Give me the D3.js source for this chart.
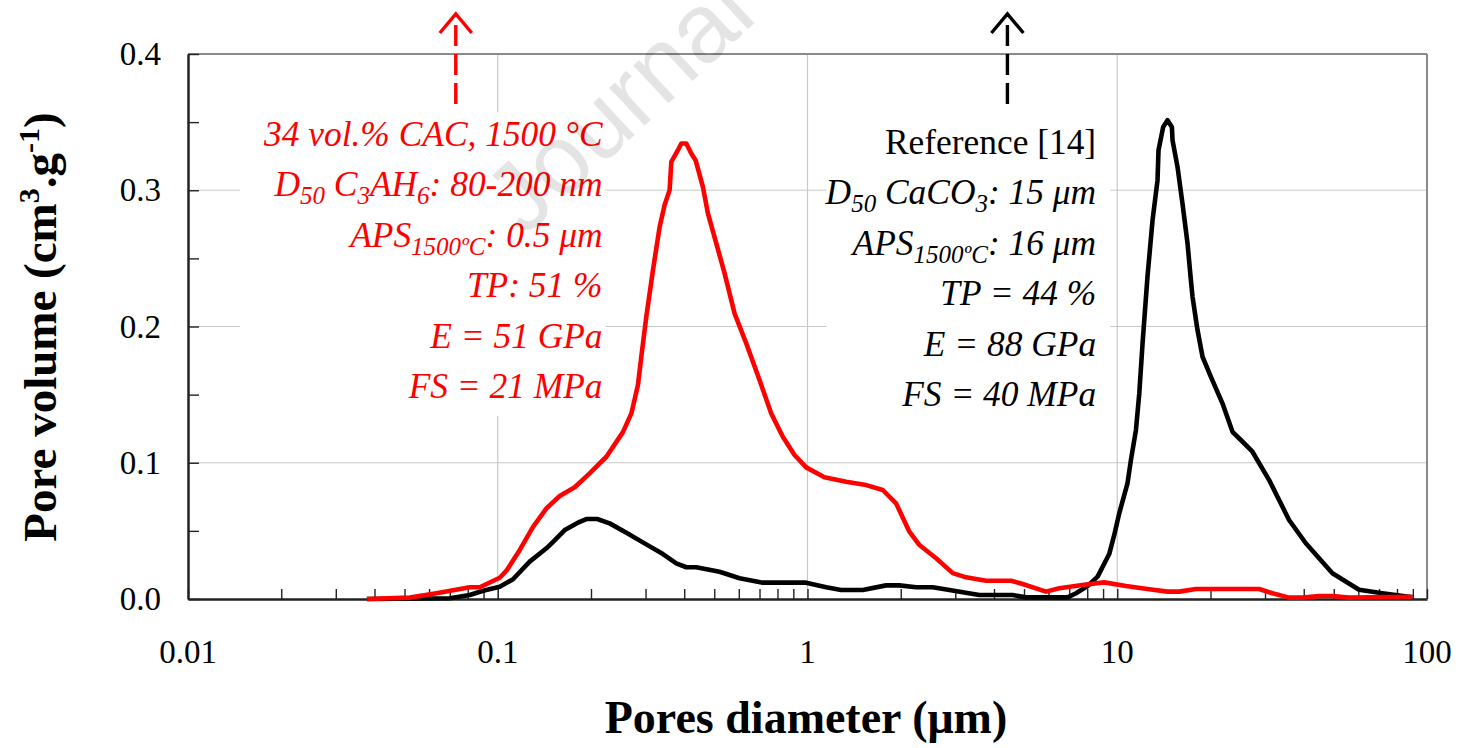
<!DOCTYPE html>
<html>
<head>
<meta charset="utf-8">
<script src="https://cdn.jsdelivr.net/npm/d3@7"></script>
<style>
  body { margin: 0; background: #fff; }
  svg { display: block; }
  text { font-family: "Liberation Serif", "Times New Roman", serif; }
</style>
</head>
<body>
<div id="chart"></div>
<script>
// pore size distributions (diameter in µm, volume in cm3/g)
const redX = [0.0378,0.052,0.0634,0.0812,0.0875,0.1015,0.1067,0.1178,0.130,0.1436,0.1585,0.1772,0.198,0.2242,0.2536,0.27,0.2835,0.2907,0.3017,0.317,0.3332,0.3457,0.3588,0.3634,0.3816,0.3914,0.4062,0.4215,0.4352,0.4595,0.477,0.5076,0.54,0.5814,0.6343,0.70,0.7637,0.8324,0.9081,0.990,1.134,1.333,1.547,1.75,1.932,2.133,2.298,2.602,2.943,3.25,3.772,4.54,4.949,5.888,6.5,7.925,9.08,10.67,12.69,14.53,15.85,17.94,28.72,31.7,35.87,39.6,44.84,49.5,56.0,89.7];
const redY = [0,0.001,0.0042,0.0086,0.0086,0.0156,0.0208,0.036,0.053,0.0665,0.0756,0.082,0.0922,0.1044,0.1225,0.1362,0.157,0.1778,0.2071,0.2414,0.2732,0.2891,0.3001,0.3208,0.3294,0.3343,0.3343,0.327,0.3221,0.3025,0.283,0.261,0.239,0.2096,0.1876,0.1607,0.1362,0.1191,0.1057,0.0966,0.0893,0.0861,0.0836,0.080,0.0702,0.0494,0.0396,0.0299,0.019,0.0159,0.0134,0.0134,0.011,0.0054,0.0079,0.0106,0.0122,0.0095,0.0071,0.0054,0.0054,0.0073,0.0073,0.0042,0.001,0.001,0.0022,0.0022,0.001,0.0017];

const blackX = [0.0378,0.070,0.0812,0.0897,0.1015,0.112,0.1268,0.1436,0.1509,0.1645,0.1815,0.1932,0.2094,0.2298,0.2602,0.3017,0.3414,0.3771,0.4062,0.4375,0.520,0.6035,0.7176,0.990,1.149,1.284,1.508,1.794,1.98,2.242,2.536,2.872,3.587,4.595,5.076,6.914,7.36,8.02,8.64,9.42,9.78,10.15,10.79,11.07,11.49,11.78,12.07,12.52,13.0,13.49,13.59,14.07,14.53,15.01,15.08,15.65,16.24,16.86,17.29,17.5,18.16,18.85,20.06,21.86,23.55,25.06,27.32,30.93,35.87,40.62,49.5,60.35,71.76,89.7];
const blackY = [0,0.0005,0.0029,0.0061,0.009,0.0145,0.0274,0.0372,0.042,0.0506,0.056,0.0587,0.0587,0.0555,0.0487,0.0401,0.033,0.0262,0.0233,0.0233,0.02,0.0152,0.012,0.012,0.0086,0.0066,0.0066,0.01,0.01,0.0086,0.0086,0.0066,0.0029,0.0029,0.0012,0.0012,0.0042,0.0095,0.0164,0.033,0.047,0.0629,0.0849,0.102,0.124,0.1509,0.1876,0.2365,0.278,0.3074,0.3294,0.3465,0.3514,0.3465,0.3368,0.3172,0.2903,0.261,0.234,0.2218,0.1974,0.1778,0.1631,0.1436,0.1227,0.1167,0.1081,0.0873,0.058,0.0409,0.0189,0.0068,0.0042,0.0012];

const xTicks = [0.01, 0.1, 1, 10, 100];
const xTickLabels = ["0.01", "0.1", "1", "10", "100"];
const yTicks = [0, 0.1, 0.2, 0.3, 0.4];
const yTickLabels = ["0.0", "0.1", "0.2", "0.3", "0.4"];

// annotation text, [text, isSubscript]
const redLines = [
  [["34 vol.% CAC, 1500 °C"]],
  [["D"], ["50", 1], [" C"], ["3", 1], ["AH"], ["6", 1], [": 80-200 nm"]],
  [["APS"], ["1500ºC", 1], [": 0.5 μm"]],
  [["TP: 51 %"]],
  [["E = 51 GPa"]],
  [["FS = 21 MPa"]]
];
const blackLines = [
  [["Reference [14]"]],
  [["D"], ["50", 1], [" CaCO"], ["3", 1], [": 15 μm"]],
  [["APS"], ["1500ºC", 1], [": 16 μm"]],
  [["TP = 44 %"]],
  [["E = 88 GPa"]],
  [["FS = 40 MPa"]]
];

const W = 1459, H = 748;
const margin = { top: 54, right: 32, bottom: 149, left: 188 };
const width = W - margin.left - margin.right;
const height = H - margin.top - margin.bottom;

const svg = d3.select("#chart").append("svg")
  .attr("width", W)
  .attr("height", H);

const g = svg.append("g")
  .attr("transform", `translate(${margin.left},${margin.top})`);

const x = d3.scaleLog().domain([0.01, 100]).range([0, width]);
const y = d3.scaleLinear().domain([0, 0.4]).range([height, 0]);

// gridlines
g.append("g").selectAll("line.gy")
  .data([0.1, 0.2, 0.3])
  .join("line")
  .attr("x1", 0).attr("x2", width)
  .attr("y1", d => y(d)).attr("y2", d => y(d))
  .attr("stroke", "#c8c8c8").attr("stroke-width", 1.2);

g.append("g").selectAll("line.gx")
  .data([0.1, 1, 10])
  .join("line")
  .attr("x1", d => x(d)).attr("x2", d => x(d))
  .attr("y1", 0).attr("y2", height)
  .attr("stroke", "#c8c8c8").attr("stroke-width", 1.2);

// white boxes behind the annotations
g.append("rect")
  .attr("x", x(0.01472)).attr("y", 58)
  .attr("width", x(0.223) - x(0.01472)).attr("height", 304)
  .attr("fill", "#fff");
g.append("rect")
  .attr("x", x(1.152)).attr("y", 64)
  .attr("width", x(9.49) - x(1.152)).attr("height", 310)
  .attr("fill", "#fff");

// frame: grey top/right, dark left/bottom
g.append("line").attr("x1", 0).attr("x2", width).attr("y1", 0).attr("y2", 0)
  .attr("stroke", "#8a8a8a").attr("stroke-width", 2);
g.append("line").attr("x1", width).attr("x2", width).attr("y1", 0).attr("y2", height)
  .attr("stroke", "#8a8a8a").attr("stroke-width", 2);

// x axis with inward minor ticks
const xMinor = [];
for (let e = -2; e < 2; e++) {
  for (let m = 1; m <= 9; m++) xMinor.push(m * Math.pow(10, e));
}
xMinor.push(100);

const xAxis = d3.axisBottom(x)
  .tickValues(xMinor)
  .tickSizeInner(-10)
  .tickSizeOuter(0)
  .tickFormat(() => "");
const gx = g.append("g")
  .attr("transform", `translate(0,${height})`)
  .call(xAxis);
gx.select(".domain").attr("stroke", "#222").attr("stroke-width", 2.5);
gx.selectAll(".tick line").attr("stroke", "#222").attr("stroke-width", 1.4);

g.append("g").selectAll("text")
  .data(xTicks)
  .join("text")
  .attr("x", d => x(d))
  .attr("y", height + 64)
  .attr("text-anchor", "middle")
  .attr("font-size", 33)
  .text((d, i) => xTickLabels[i]);

// y axis
const yAxis = d3.axisLeft(y)
  .tickValues(d3.range(0, 0.401, 0.05))
  .tickSizeInner(-11)
  .tickSizeOuter(0)
  .tickFormat(() => "");
const gy = g.append("g").call(yAxis);
gy.select(".domain").attr("stroke", "#222").attr("stroke-width", 2.5);
gy.selectAll(".tick line").attr("stroke", "#222").attr("stroke-width", 1.4);

g.append("g").selectAll("text")
  .data(yTicks)
  .join("text")
  .attr("x", -27)
  .attr("y", d => y(d) + 11)
  .attr("text-anchor", "end")
  .attr("font-size", 33)
  .text((d, i) => yTickLabels[i]);

// watermark
svg.append("text")
  .attr("transform", "translate(524,238) rotate(-43)")
  .style("font-family", "'Liberation Sans', Arial, sans-serif")
  .attr("font-size", 98)
  .attr("fill", "#000")
  .attr("opacity", 0.1)
  .text("Journal Pre-proof");

// curves
const line = d3.line()
  .x(d => x(d[0]))
  .y(d => y(d[1]));

g.append("path")
  .datum(blackX.map((v, i) => [v, blackY[i]]))
  .attr("d", line)
  .attr("fill", "none")
  .attr("stroke", "#000")
  .attr("stroke-width", 4.6)
  .attr("stroke-linejoin", "round");

g.append("path")
  .datum(redX.map((v, i) => [v, redY[i]]))
  .attr("d", line)
  .attr("fill", "none")
  .attr("stroke", "#ff0000")
  .attr("stroke-width", 4.6)
  .attr("stroke-linejoin", "round");

// annotation blocks
function block(lines, xr, y0, color, firstUpright) {
  lines.forEach((segs, li) => {
    const t = g.append("text")
      .attr("x", xr)
      .attr("y", y0 + li * 50.4)
      .attr("text-anchor", "end")
      .attr("font-size", 35.4)
      .attr("fill", color)
      .attr("font-style", (firstUpright && li === 0) ? "normal" : "italic");
    let down = false;
    segs.forEach(s => {
      const sub = !!s[1];
      const ts = t.append("tspan").text(s[0]);
      if (sub) ts.attr("font-size", 25).attr("dy", down ? 0 : 8);
      else if (down) ts.attr("dy", -8);
      down = sub;
    });
  });
}
block(redLines, x(0.218), 92, "#ff0000", false);
block(blackLines, x(8.55), 100, "#000", true);

// dashed arrows pointing to further references
function arrow(xv, color) {
  const px = x(xv);
  g.append("line")
    .attr("x1", px).attr("x2", px)
    .attr("y1", 50).attr("y2", -38)
    .attr("stroke", color).attr("stroke-width", 3.4)
    .attr("stroke-dasharray", "21,8");
  g.append("path")
    .attr("d", `M${px - 16},${-21} L${px},${-40} L${px + 16},${-21}`)
    .attr("fill", "none")
    .attr("stroke", color).attr("stroke-width", 3.4);
}
arrow(0.0732, "#ff0000");
arrow(4.42, "#000");

// axis titles
svg.append("text")
  .attr("x", 806)
  .attr("y", 733)
  .attr("text-anchor", "middle")
  .attr("font-size", 46)
  .attr("font-weight", "bold")
  .text("Pores diameter (μm)");

const yt = svg.append("text")
  .attr("transform", "translate(56,327) rotate(-90)")
  .attr("text-anchor", "middle")
  .attr("font-size", 47)
  .attr("font-weight", "bold");
yt.append("tspan").text("Pore volume (cm");
yt.append("tspan").text("3").attr("font-size", 30).attr("dy", -17);
yt.append("tspan").text(".g").attr("dy", 17);
yt.append("tspan").text("-1").attr("font-size", 30).attr("dy", -17);
yt.append("tspan").text(")").attr("dy", 17);
</script>
</body>
</html>
